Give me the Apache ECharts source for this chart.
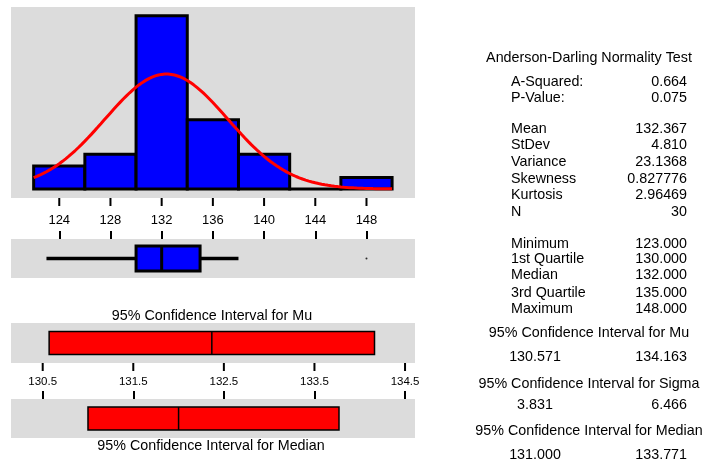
<!DOCTYPE html>
<html>
<head>
<meta charset="utf-8">
<script src="https://cdn.jsdelivr.net/npm/echarts@6/dist/echarts.min.js"></script>
<style>
  html, body { margin: 0; padding: 0; background: #ffffff; }
  #chart { width: 704px; height: 465px; }
</style>
</head>
<body>
<div id="chart"></div>
<script>
// ---- data -------------------------------------------------------------
const binStarts = [122, 126, 130, 134, 138, 142, 146];
const binWidth = 4;
const binCounts = [2, 3, 15, 6, 3, 0, 1];
const histTicks = [124, 128, 132, 136, 140, 144, 148];

// five-number box: lower whisker, Q1, median, Q3, upper whisker
const boxValues = [123, 130, 132, 135, 138];
const outliers = [148];

const ciTicks = [130.5, 131.5, 132.5, 133.5, 134.5];
const muInterval = [130.571, 132.367, 134.163];      // low, mean, high
const medianInterval = [131.000, 132.000, 133.771];  // low, median, high

const sampleMean = 132.367;
const sampleStDev = 4.810;
const sampleN = 30;

const adLabels = ['A-Squared:', 'P-Value:'];
const adValues = ['0.664', '0.075'];
const momentLabels = ['Mean', 'StDev', 'Variance', 'Skewness', 'Kurtosis', 'N'];
const momentValues = ['132.367', '4.810', '23.1368', '0.827776', '2.96469', '30'];
const quantileLabels = ['Minimum', '1st Quartile', 'Median', '3rd Quartile', 'Maximum'];
const quantileValues = ['123.000', '130.000', '132.000', '135.000', '148.000'];
const ciTitles = ['95% Confidence Interval for Mu', '95% Confidence Interval for Sigma', '95% Confidence Interval for Median'];
const ciLows = ['130.571', '3.831', '131.000'];
const ciHighs = ['134.163', '6.466', '133.771'];

// ---- styling ----------------------------------------------------------
const FONT = '"Liberation Sans", Arial, sans-serif';
const PANEL = '#dcdcdc';
const TEXT_SIZE = 14.3;
const HIST_RANGE = [120.23, 151.79];
const CI_RANGE = [130.15, 134.61];
const HIST_Y = [-0.78, 15.76];
const TICK_LEN = 8;

// fitted normal density scaled to counts per bin
const curve = [];
for (let x = binStarts[0]; x <= binStarts[binStarts.length - 1] + binWidth + 1e-9; x += 0.25) {
  const z = (x - sampleMean) / sampleStDev;
  const dens = Math.exp(-0.5 * z * z) / (sampleStDev * Math.sqrt(2 * Math.PI));
  curve.push([x, sampleN * binWidth * dens]);
}

const histData = binStarts.map((s, i) => [s, s + binWidth, binCounts[i]]);

// axis that draws upward tick marks along the top edge of its grid
function tickAxis(grid, range, ticks) {
  return {
    type: 'value', gridIndex: grid, min: range[0], max: range[1], position: 'top',
    axisLine: { show: false, onZero: false }, splitLine: { show: false },
    axisTick: { show: true, customValues: ticks, length: TICK_LEN, inside: false,
                lineStyle: { color: '#000', width: 2 } },
    axisLabel: { show: false }
  };
}
// axis that draws the tick labels under its grid
function labelAxis(grid, range, ticks, fontSize, margin) {
  return {
    type: 'value', gridIndex: grid, min: range[0], max: range[1], position: 'bottom',
    axisLine: { show: false, onZero: false }, splitLine: { show: false },
    axisTick: { show: false },
    axisLabel: { show: true, customValues: ticks, fontSize: fontSize, margin: margin,
                 color: '#000', fontFamily: FONT,
                 formatter: v => (Number.isInteger(v) ? String(v) : v.toFixed(1)) }
  };
}

function intervalSeries(xi, vals) {
  return {
    type: 'custom', xAxisIndex: xi, yAxisIndex: xi,
    data: [vals],
    renderItem: function (params, api) {
      const a = api.coord([api.value(0), 0]);
      const m = api.coord([api.value(1), 0]);
      const b = api.coord([api.value(2), 0]);
      const h = 23;
      return {
        type: 'group',
        children: [
          { type: 'rect', shape: { x: a[0], y: a[1] - h / 2, width: b[0] - a[0], height: h },
            style: { fill: '#ff0000', stroke: '#000', lineWidth: 1.5 } },
          { type: 'line', shape: { x1: m[0], y1: a[1] - h / 2, x2: m[0], y2: a[1] + h / 2 },
            style: { stroke: '#000', lineWidth: 1.5 } }
        ]
      };
    }
  };
}

// ---- side table -------------------------------------------------------
const graphics = [];
function txt(x, y, s, align) {
  graphics.push({ type: 'text', x: x, y: y,
    style: { text: s, fill: '#000', font: TEXT_SIZE + 'px ' + FONT, textAlign: align, textVerticalAlign: 'middle' } });
}
const LX = 511, RX = 687, CX = 589, LC = 535;
txt(CX, 58, 'Anderson-Darling Normality Test', 'center');
const adY = [82, 98];
adLabels.forEach((s, i) => { txt(LX, adY[i], s, 'left'); txt(RX, adY[i], adValues[i], 'right'); });
const momY = [129, 145, 162, 179, 195, 212];
momentLabels.forEach((s, i) => { txt(LX, momY[i], s, 'left'); txt(RX, momY[i], momentValues[i], 'right'); });
const qY = [244, 259, 275, 293, 309];
quantileLabels.forEach((s, i) => { txt(LX, qY[i], s, 'left'); txt(RX, qY[i], quantileValues[i], 'right'); });
const ciTitleY = [333, 384, 431];
const ciValY = [357, 405, 455];
ciTitles.forEach((s, i) => {
  txt(CX, ciTitleY[i], s, 'center');
  txt(LC, ciValY[i], ciLows[i], 'center');
  txt(RX, ciValY[i], ciHighs[i], 'right');
});
// captions of the interval panels
txt(212, 316, ciTitles[0], 'center');
txt(211, 446, ciTitles[2], 'center');

// ---- chart ------------------------------------------------------------
const chart = echarts.init(document.getElementById('chart'), null, { renderer: 'canvas' });
const panel = { left: 11, width: 404, show: true, backgroundColor: PANEL, borderWidth: 0 };
chart.setOption({
  animation: false,
  backgroundColor: '#ffffff',
  grid: [
    Object.assign({ top: 7, height: 191 }, panel),   // histogram
    Object.assign({ top: 239, height: 39 }, panel),  // box plot
    Object.assign({ top: 323, height: 40 }, panel),  // interval for mu
    Object.assign({ top: 399, height: 39 }, panel)   // interval for median
  ],
  xAxis: [
    labelAxis(0, HIST_RANGE, histTicks, 13, 16),
    tickAxis(1, HIST_RANGE, histTicks),
    labelAxis(2, CI_RANGE, ciTicks, 11.5, 13),
    tickAxis(3, CI_RANGE, ciTicks)
  ],
  yAxis: [
    { type: 'value', gridIndex: 0, min: HIST_Y[0], max: HIST_Y[1], show: false },
    { type: 'value', gridIndex: 1, min: -1, max: 1, show: false },
    { type: 'value', gridIndex: 2, min: -1, max: 1, show: false },
    { type: 'value', gridIndex: 3, min: -1, max: 1, show: false }
  ],
  series: [
    {
      type: 'custom', xAxisIndex: 0, yAxisIndex: 0, data: histData,
      renderItem: function (params, api) {
        const p0 = api.coord([api.value(0), 0]);
        const p1 = api.coord([api.value(1), api.value(2)]);
        return { type: 'rect',
          shape: { x: p0[0], y: p1[1], width: p1[0] - p0[0], height: Math.max(p0[1] - p1[1], 0.01) },
          style: { fill: '#0000ff', stroke: '#000', lineWidth: 3 } };
      }
    },
    {
      type: 'line', xAxisIndex: 0, yAxisIndex: 0, data: curve, showSymbol: false, smooth: false,
      lineStyle: { color: '#ff0000', width: 3 }, z: 5
    },
    {
      type: 'custom', xAxisIndex: 1, yAxisIndex: 1, data: [boxValues],
      renderItem: function (params, api) {
        const lo = api.coord([api.value(0), 0]);
        const q1 = api.coord([api.value(1), 0]);
        const md = api.coord([api.value(2), 0]);
        const q3 = api.coord([api.value(3), 0]);
        const hi = api.coord([api.value(4), 0]);
        const h = 25;
        const y = lo[1];
        return {
          type: 'group',
          children: [
            { type: 'line', shape: { x1: lo[0], y1: y, x2: q1[0], y2: y }, style: { stroke: '#000', lineWidth: 3.5 } },
            { type: 'line', shape: { x1: q3[0], y1: y, x2: hi[0], y2: y }, style: { stroke: '#000', lineWidth: 3.5 } },
            { type: 'rect', shape: { x: q1[0], y: y - h / 2, width: q3[0] - q1[0], height: h },
              style: { fill: '#0000ff', stroke: '#000', lineWidth: 3 } },
            { type: 'line', shape: { x1: md[0], y1: y - h / 2, x2: md[0], y2: y + h / 2 }, style: { stroke: '#000', lineWidth: 3 } }
          ]
        };
      }
    },
    {
      type: 'scatter', xAxisIndex: 1, yAxisIndex: 1, data: outliers.map(v => [v, 0]),
      symbol: 'circle', symbolSize: 2, itemStyle: { color: '#000' }
    },
    intervalSeries(2, muInterval),
    intervalSeries(3, medianInterval)
  ],
  graphic: graphics
});

// downward tick marks under the histogram and the mu interval,
// positioned through the axes' own value-to-pixel conversion
const tickMarks = [];
function addBottomTicks(gridIndex, ticks, yMin) {
  ticks.forEach(v => {
    const p = chart.convertToPixel({ gridIndex: gridIndex }, [v, yMin]);
    tickMarks.push({ type: 'line', z: 100,
      shape: { x1: p[0], y1: p[1], x2: p[0], y2: p[1] + TICK_LEN },
      style: { stroke: '#000', lineWidth: 2 } });
  });
}
addBottomTicks(0, histTicks, HIST_Y[0]);
addBottomTicks(2, ciTicks, -1);
chart.setOption({ graphic: graphics.concat(tickMarks) });
</script>
</body>
</html>
